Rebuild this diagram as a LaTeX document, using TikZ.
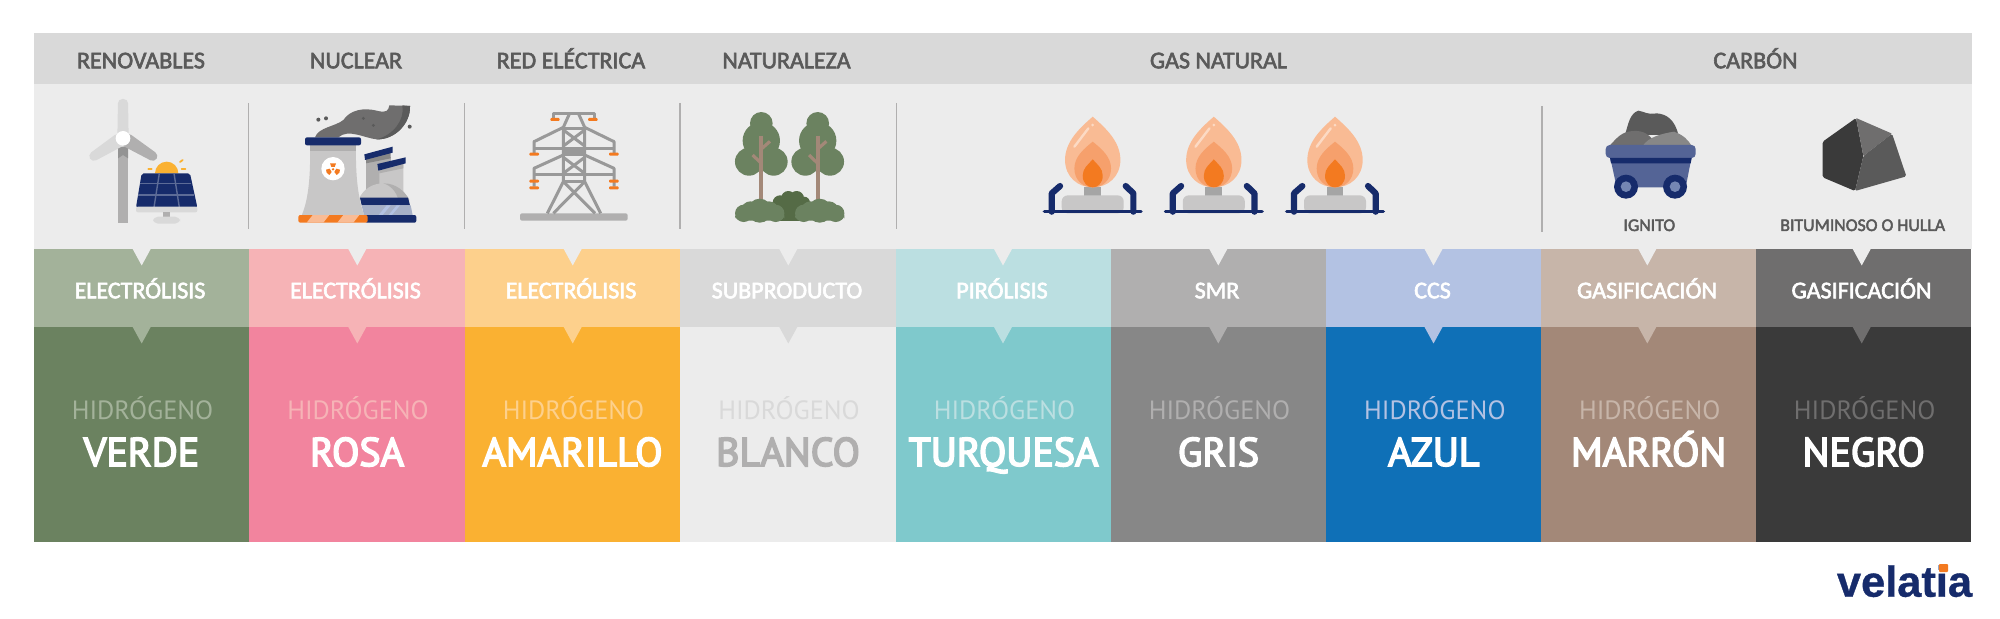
\documentclass[tikz,border=0pt]{standalone}
\usepackage{fontspec}
\setmainfont{Carlito}
\newfontfamily\labelfont[FakeBold=2.5]{Carlito}
\newfontfamily\ptsans{PT Sans}
\newfontfamily\ptheavy[FakeBold=4]{PT Sans}
\newfontfamily\logofont[FakeBold=0.8]{Liberation Sans Bold}
\definecolor{hdrgrey}{HTML}{D9D9D9}
\definecolor{lightgrey}{HTML}{ECECEC}
\definecolor{inkgrey}{HTML}{5A5A5A}
\definecolor{midgrey}{HTML}{B0AFAF}
\definecolor{navy}{HTML}{162B6B}
\definecolor{orange}{HTML}{F37A20}
\definecolor{peach}{HTML}{F9BB94}
\definecolor{peachmid}{HTML}{F6A06C}
\definecolor{leaf}{HTML}{6B8260}
\definecolor{leafdark}{HTML}{556B46}
\definecolor{leaflight}{HTML}{A3B29A}
\definecolor{trunk}{HTML}{A38878}
\definecolor{rosa}{HTML}{F2849E}
\definecolor{rosalight}{HTML}{F6B3B6}
\definecolor{amber}{HTML}{FAB132}
\definecolor{amberlight}{HTML}{FDD08C}
\definecolor{turq}{HTML}{7FC9CC}
\definecolor{turqlight}{HTML}{BBDFE1}
\definecolor{gris}{HTML}{878787}
\definecolor{azul}{HTML}{0F70B7}
\definecolor{azullight}{HTML}{B3C2E3}
\definecolor{marron}{HTML}{A38878}
\definecolor{marronlight}{HTML}{C7B5A9}
\definecolor{negro}{HTML}{3A3A3A}
\definecolor{negrolight}{HTML}{6F6E6E}
\newcommand{\notch}[3]{\fill[#3] (#1-9,#2) -- (#1+9,#2) -- (#1,#2+16.5) -- cycle;}
\begin{document}
\begin{tikzpicture}[x=.5pt,y=-.5pt,
zoomed/.style={x=.16667pt,y=-.16667pt},
band/.style={rectangle, draw=none, inner sep=0pt, minimum width=107.75pt},
proc/.style={band, minimum height=38.7pt},
block/.style={band, minimum height=107.7pt},
hdr/.style={anchor=base, text=inkgrey, font=\labelfont\fontsize{12}{13}\selectfont},
sublabel/.style={anchor=base, text=inkgrey, font=\labelfont\fontsize{8.9}{9}\selectfont},
proclabel/.style={anchor=base, text=white, font=\labelfont\fontsize{12}{13}\selectfont},
hidro/.style={anchor=base, font=\ptsans\fontsize{13.2}{14}\selectfont},
colour/.style={anchor=base, text=white, font=\ptheavy\fontsize{20}{21}\selectfont},
divider/.style={draw=midgrey, line width=.6pt},
pylonline/.style={draw=gris!85!white, line width=1.5pt, line join=round},
insulator/.style={fill=orange, rounded corners=.5pt},
burner/.pic={
  \begin{scope}[zoomed]
  \draw[navy, line width=3.1pt, line cap=round, line join=round] (-123,0) -- (-123,-55) -- (-98,-77);
  \draw[navy, line width=3.1pt, line cap=round, line join=round] (122,0) -- (122,-55) -- (99,-77);
  \fill[gris!75!white] (-25,-73) rectangle (25,-45);
  \fill[midgrey!70!white, rounded corners=3pt] (-93,5) -- (-93,-49) -- (93,-49) -- (93,5) -- cycle;
  \draw[navy, line width=1.7pt, line cap=round] (-145,0) -- (145,0);
  \fill[peach] (0,-285) .. controls (-40,-250) and (-83,-210) .. (-83,-155) .. controls (-83,-105) and (-45,-73) .. (0,-73) .. controls (45,-73) and (83,-105) .. (83,-155) .. controls (83,-210) and (40,-250) .. (0,-285);
  \fill[peachmid] (0,-210) .. controls (-25,-190) and (-55,-165) .. (-55,-130) .. controls (-55,-95) and (-30,-73) .. (0,-73) .. controls (30,-73) and (55,-95) .. (55,-130) .. controls (55,-165) and (25,-190) .. (0,-210);
  \fill[orange] (0,-157) .. controls (-15,-140) and (-30,-130) .. (-30,-108) .. controls (-30,-85) and (-15,-73) .. (0,-73) .. controls (15,-73) and (30,-85) .. (30,-108) .. controls (30,-130) and (15,-140) .. (0,-157);
  \draw[peach!55!white, line width=1.2pt, line cap=round] (-13,-250) -- (-55,-195);
  \fill[peach!55!white] (0,-260) circle (4.5);
  \end{scope}
},
tree/.pic={
  \begin{scope}[zoomed]
  \fill[leaf] (0,-292) circle (34);
  \fill[leaf] (0,-240) circle (56);
  \fill[leaf] (-37,-177) circle (42);
  \fill[leaf] (37,-177) circle (42);
  \draw[trunk, line width=2pt] (0,-255) -- (0,-62);
  \draw[trunk, line width=1.6pt] (0,-172) -- (-26,-197);
  \draw[trunk, line width=1.6pt] (0,-215) -- (26,-238);
  \end{scope}
},
bush/.pic={
  \begin{scope}[zoomed]
  \fill[leaf] (0,-30) circle (36);
  \fill[leaf] (-48,-22) circle (26);
  \fill[leaf] (48,-22) circle (26);
  \fill[leaf] (-28,-30) circle (28);
  \fill[leaf] (28,-30) circle (28);
  \fill[leaf, rounded corners=3pt] (-74,0) -- (-74,-24) -- (74,-24) -- (74,0) -- cycle;
  \end{scope}
}]
\useasboundingbox (0,0) rectangle (2000,619);
% top strips
\node (topstrip) at (1003,58.7) [rectangle, fill=hdrgrey, inner sep=0pt, minimum width=969pt, minimum height=25.3pt] {};
\node (iconstrip) at (1003,166.7) [rectangle, fill=lightgrey, inner sep=0pt, minimum width=969pt, minimum height=82.7pt] {};
\node (hdrRen) at (141,68.3) [hdr] {RENOVABLES};
\node (hdrNuc) at (356,68.3) [hdr] {NUCLEAR};
\node (hdrRed) at (571,68.3) [hdr] {RED ELÉCTRICA};
\node (hdrNat) at (786.5,68.3) [hdr] {NATURALEZA};
\node (hdrGas) at (1218.5,68.3) [hdr] {GAS NATURAL};
\node (hdrCar) at (1755.5,68.3) [hdr] {CARBÓN};
% dividers
\draw[divider] (248.5,103) -- (248.5,229);
\draw[divider] (464.5,103) -- (464.5,229);
\draw[divider] (680,103) -- (680,229);
\draw[divider] (896.5,103) -- (896.5,229);
\draw[divider] (1542,106) -- (1542,232);
% process row
\node (pVerde) at (141.5,288) [proc, fill=leaflight] {};
\node (pRosa) at (357,288) [proc, fill=rosalight] {};
\node (pAmar) at (572.5,288) [proc, fill=amberlight] {};
\node (pBlan) at (788,288) [proc, fill=hdrgrey] {};
\node (pTurq) at (1003.5,288) [proc, fill=turqlight] {};
\node (pGris) at (1218.5,288) [proc, fill=midgrey] {};
\node (pAzul) at (1433.8,288) [proc, fill=azullight] {};
\node (pMarr) at (1648.7,288) [proc, fill=marronlight] {};
\node (pNegr) at (1863.6,288) [proc, fill=negrolight] {};
% colour row
\node (bVerde) at (141.5,434.5) [block, fill=leaf] {};
\node (bRosa) at (357,434.5) [block, fill=rosa] {};
\node (bAmar) at (572.5,434.5) [block, fill=amber] {};
\node (bBlan) at (788,434.5) [block, fill=lightgrey] {};
\node (bTurq) at (1003.5,434.5) [block, fill=turq] {};
\node (bGris) at (1218.5,434.5) [block, fill=gris] {};
\node (bAzul) at (1433.8,434.5) [block, fill=azul] {};
\node (bMarr) at (1648.7,434.5) [block, fill=marron] {};
\node (bNegr) at (1863.6,434.5) [block, fill=negro] {};
% notches
\notch{141.7}{249}{lightgrey}
\notch{357.3}{249}{lightgrey}
\notch{572.7}{249}{lightgrey}
\notch{788.3}{249}{lightgrey}
\notch{1003}{249}{lightgrey}
\notch{1218.3}{249}{lightgrey}
\notch{1433.5}{249}{lightgrey}
\notch{1647.3}{249}{lightgrey}
\notch{1861.7}{249}{lightgrey}
\notch{141.7}{327}{leaflight}
\notch{357.3}{327}{rosalight}
\notch{572.7}{327}{amberlight}
\notch{788.3}{327}{hdrgrey}
\notch{1003}{327}{turqlight}
\notch{1218.3}{327}{midgrey}
\notch{1433.5}{327}{azullight}
\notch{1647.3}{327}{marronlight}
\notch{1861.7}{327}{negrolight}
% process labels
\node (lVerde) at (140,298.3) [proclabel] {ELECTRÓLISIS};
\node (lRosa) at (355.5,298.3) [proclabel] {ELECTRÓLISIS};
\node (lAmar) at (571,298.3) [proclabel] {ELECTRÓLISIS};
\node (lBlan) at (787,298.3) [proclabel] {SUBPRODUCTO};
\node (lTurq) at (1002,298.3) [proclabel] {PIRÓLISIS};
\node (lGris) at (1217,298.3) [proclabel] {SMR};
\node (lAzul) at (1432.5,298.3) [proclabel] {CCS};
\node (lMarr) at (1647,298.3) [proclabel] {GASIFICACIÓN};
\node (lNegr) at (1861.5,298.3) [proclabel] {GASIFICACIÓN};
% hydrogen labels
\node (hVerde) at (142.5,420) [hidro, text=leaflight] {HIDRÓGENO};
\node (hRosa) at (358,420) [hidro, text=rosalight] {HIDRÓGENO};
\node (hAmar) at (573.5,420) [hidro, text=amberlight] {HIDRÓGENO};
\node (hBlan) at (789,420) [hidro, text=hdrgrey] {HIDRÓGENO};
\node (hTurq) at (1004.5,420) [hidro, text=turqlight] {HIDRÓGENO};
\node (hGris) at (1219.5,420) [hidro, text=midgrey] {HIDRÓGENO};
\node (hAzul) at (1434.8,420) [hidro, text=azullight] {HIDRÓGENO};
\node (hMarr) at (1649.7,420) [hidro, text=marronlight] {HIDRÓGENO};
\node (hNegr) at (1864.6,420) [hidro, text=negrolight] {HIDRÓGENO};
\node (cVerde) at (141.5,466) [colour] {VERDE};
\node (cRosa) at (357,466) [colour] {ROSA};
\node (cAmar) at (572.5,466) [colour] {AMARILLO};
\node (cBlan) at (788,466) [colour, text=midgrey] {BLANCO};
\node (cTurq) at (1003.5,466) [colour] {TURQUESA};
\node (cGris) at (1218.5,466) [colour] {GRIS};
\node (cAzul) at (1433.8,466) [colour] {AZUL};
\node (cMarr) at (1648.7,466) [colour] {MARRÓN};
\node (cNegr) at (1863.6,466) [colour] {NEGRO};
% wind turbine and solar panel
\begin{scope}[shift={(0,20)},zoomed]
\fill[midgrey] (354,380) rectangle (384,610);
\fill[gris!90!white] (354,380) -- (384,380) -- (384,415) -- (369,405) -- (354,415) -- cycle;
\fill[hdrgrey, rounded corners=2.2pt] (352,355) -- (354,237) -- (384,237) -- (386,355) -- cycle;
\fill[hdrgrey, rounded corners=2.2pt] (355,337) -- (263,405) -- (277,427) -- (380,372) -- cycle;
\fill[midgrey, rounded corners=2.2pt] (383,337) -- (477,405) -- (463,427) -- (358,372) -- cycle;
\fill[white] (369,355) circle (22);
\fill[amber] (465,460) arc (180:360:35) -- cycle;
\draw[amber, line width=.9pt, line cap=round] (445,448) -- (455,448);
\draw[amber, line width=.9pt, line cap=round] (545,448) -- (556,448);
\draw[amber, line width=.9pt, line cap=round] (540,426) -- (548,420);
\fill[navy, rounded corners=1pt] (425,460) -- (570,460) -- (592,562) -- (408,562) -- cycle;
\draw[navy!70!white, line width=.7pt] (421,490) -- (574,490);
\draw[navy!70!white, line width=.7pt] (415,525) -- (581,525);
\draw[navy!70!white, line width=.7pt] (478,460) -- (462,562);
\draw[navy!70!white, line width=.7pt] (522,460) -- (538,562);
\fill[hdrgrey, rounded corners=1pt] (408,560) rectangle (592,577);
\fill[midgrey] (490,577) rectangle (510,590);
\fill[hdrgrey, rounded corners=2.5pt] (459,590) -- (540,590) -- (540,611) -- (459,611) -- cycle;
\end{scope}
% nuclear plant
\begin{scope}[shift={(0,20)},zoomed]
\fill[negrolight] (945,352) .. controls (955,322) and (1005,320) .. (1030,300) .. controls (1050,270) and (1090,262) .. (1130,272) .. controls (1160,280) and (1165,272) .. (1168,256) -- (1230,258) .. controls (1232,310) and (1185,360) .. (1130,358) .. controls (1095,355) and (1045,325) .. (1015,352) -- cycle;
\fill[inkgrey] (1207,256) -- (1230,258) .. controls (1232,310) and (1185,360) .. (1130,358) .. controls (1180,345) and (1215,300) .. (1207,256);
\fill[inkgrey] (955,299) circle (6);
\fill[inkgrey] (978,295) circle (6);
\fill[inkgrey] (1229,320) circle (6);
\fill[inkgrey] (1090,295) circle (5);
\fill[inkgrey] (1120,316) circle (5);
% small stacks behind
\fill[midgrey] (1098,410) rectangle (1172,510);
\fill[gris] (1098,410) -- (1172,395) -- (1172,415) -- (1098,430) -- cycle;
\fill[navy] (1093,403) -- (1178,380) -- (1178,398) -- (1095,420) -- cycle;
\fill[midgrey!70!white] (1138,445) -- (1210,430) -- (1210,525) -- (1138,525) -- cycle;
\fill[midgrey] (1138,445) -- (1210,430) -- (1210,445) -- (1138,460) -- cycle;
\fill[navy] (1132,432) -- (1217,412) -- (1217,430) -- (1135,452) -- cycle;
% dome
\fill[midgrey!70!white] (1075,540) .. controls (1090,505) and (1120,490) .. (1150,490) .. controls (1190,490) and (1215,515) .. (1228,540) -- cycle;
\fill[midgrey] (1150,490) .. controls (1190,490) and (1215,515) .. (1228,540) -- (1195,540) .. controls (1190,515) and (1170,495) .. (1150,490);
\fill[navy] (1080,533) -- (1224,533) -- (1230,556) -- (1085,556) -- cycle;
\fill[azullight!70!gris] (1085,556) -- (1232,556) -- (1238,586) -- (1092,586) -- cycle;
\fill[azullight] (1135,586) -- (1160,556) -- (1172,556) -- (1147,586) -- cycle;
\fill[azullight] (1165,586) -- (1190,556) -- (1200,556) -- (1175,586) -- cycle;
% cooling tower
\fill[midgrey!70!white] (930,376) -- (1068,376) .. controls (1066,470) and (1075,540) .. (1093,586) -- (905,586) .. controls (925,540) and (932,470) .. (930,376) -- cycle;
\fill[midgrey] (930,376) rectangle (1068,394);
\fill[navy, rounded corners=1pt] (915,352) rectangle (1083,376);
\fill[white] (999,446) circle (35);
\fill[orange] (990,430) -- (1008,430) -- (1004,441) -- (994,441) -- cycle;
\fill[orange] (978,449) -- (989,446) -- (995,456) -- (988,465) .. controls (980,462) and (978,455) .. (978,449);
\fill[orange] (1020,449) -- (1009,446) -- (1003,456) -- (1010,465) .. controls (1018,462) and (1020,455) .. (1020,449);
\fill[orange] (999,448) circle (4);
% base strip
\fill[navy, rounded corners=1pt] (1095,585) rectangle (1249,608);
\fill[orange, rounded corners=1pt] (895,585) rectangle (1103,608);
\fill[peach] (920,608) -- (938,585) -- (988,585) -- (970,608) -- cycle;
\fill[peach] (1012,608) -- (1030,585) -- (1078,585) -- (1060,608) -- cycle;
\end{scope}
% pylon
\begin{scope}[shift={(430,20)},zoomed]
\fill[midgrey, rounded corners=1pt] (270,580) rectangle (593,602);
\draw[pylonline] (370,295) -- (370,280) -- (492,280) -- (492,295);
\draw[pylonline] (418,282) -- (400,322) -- (400,485) -- (352,580);
\draw[pylonline] (446,282) -- (464,322) -- (464,485) -- (512,580);
\draw[pylonline] (400,325) -- (464,325);
\draw[pylonline] (400,395) -- (464,395);
\draw[pylonline] (400,405) -- (464,405);
\draw[pylonline] (400,485) -- (464,485);
\draw[pylonline] (400,330) -- (464,378);
\draw[pylonline] (464,330) -- (400,378);
\draw[pylonline] (400,412) -- (464,460);
\draw[pylonline] (464,412) -- (400,460);
\draw[pylonline] (400,485) -- (495,580);
\draw[pylonline] (464,485) -- (370,580);
\draw[pylonline] (400,322) -- (312,365) -- (312,400);
\draw[pylonline] (464,322) -- (552,365) -- (552,400);
\draw[pylonline] (312,385) -- (552,385);
\draw[pylonline] (400,405) -- (312,445) -- (312,500);
\draw[pylonline] (464,405) -- (552,445) -- (552,500);
\draw[pylonline] (312,465) -- (552,465);
\fill[insulator] (361,294) rectangle (389,303);
\fill[insulator] (474,294) rectangle (503,303);
\fill[insulator] (298,398) rectangle (327,407);
\fill[insulator] (537,398) rectangle (566,407);
\fill[insulator] (298,479) rectangle (327,488);
\fill[insulator] (537,479) rectangle (566,488);
\fill[insulator] (298,499) rectangle (327,508);
\fill[insulator] (537,499) rectangle (566,508);
\end{scope}
% trees and bushes
\pic (treeA) at (761.3,220.7) {tree};
\pic (treeB) at (817.7,220.7) {tree};
\begin{scope}[shift={(430,20)},zoomed]
\fill[leafdark] (1075,535) circle (22);
\fill[leafdark] (1050,548) circle (22);
\fill[leafdark] (1100,535) circle (22);
\fill[leafdark] (1122,548) circle (18);
\fill[leafdark] (1040,550) rectangle (1135,602);
\end{scope}
\pic (bushA) at (759.7,220.7) {bush};
\pic (bushB) at (819.7,220.7) {bush};
% burners
\pic (burnerA) at (1092.7,211.7) {burner};
\pic (burnerB) at (1213.8,211.7) {burner};
\pic (burnerC) at (1335,211.7) {burner};
% coal cart
\begin{scope}[shift={(1520,90)},zoomed]
\fill[inkgrey] (315,135) .. controls (325,100) and (330,70) .. (355,62) .. controls (375,65) and (380,75) .. (410,70) .. controls (440,72) and (465,90) .. (475,135) -- cycle;
\fill[negrolight] (268,168) .. controls (285,150) and (300,130) .. (325,125) .. controls (350,120) and (375,122) .. (395,145) -- (400,168) -- cycle;
\fill[gris] (368,168) .. controls (385,140) and (430,130) .. (462,125) .. controls (490,135) and (505,150) .. (515,168) -- cycle;
\fill[azullight!20!navy!85!white] (270,200) -- (515,200) -- (497,292) -- (290,292) -- cycle;
\fill[azullight!20!navy!85!white, rounded corners=2pt] (257,165) rectangle (527,204);
\fill[navy] (270,204) -- (515,204) -- (512,220) -- (273,220) -- cycle;
\fill[navy] (318,290) circle (36);
\fill[navy] (465,290) circle (36);
\fill[azullight!60!navy] (318,290) circle (16);
\fill[azullight!60!navy] (465,290) circle (16);
\end{scope}
% coal lump
\begin{scope}[shift={(1520,90)},zoomed]
\fill[negro, rounded corners=.8pt] (1008,84) -- (1030,198) -- (1005,303) -- (908,262) -- (908,155) -- cycle;
\fill[negrolight, rounded corners=.4pt] (1008,84) -- (1116,131) -- (1030,198) -- cycle;
\fill[inkgrey, rounded corners=.8pt] (1116,131) -- (1159,259) -- (1005,303) -- (1030,198) -- cycle;
\end{scope}
\node (lblIgn) at (1649.3,231) [sublabel] {IGNITO};
\node (lblBit) at (1862.7,231) [sublabel] {BITUMINOSO O HULLA};
% logo
\node (logo) at (1904.5,596.7) [anchor=base, text=navy, font=\logofont\fontsize{21.7}{22}\selectfont] {velatia};
\fill[orange, rounded corners=.4pt] (1939,564) rectangle (1948,572);
\end{tikzpicture}
\end{document}
